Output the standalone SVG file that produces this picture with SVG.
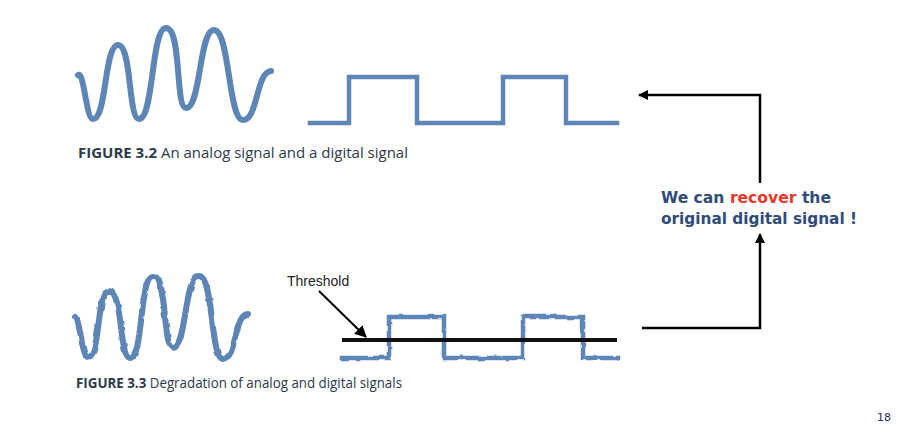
<svg xmlns="http://www.w3.org/2000/svg" width="898" height="443" viewBox="0 0 898 443">
<style>
.sig{fill:none;stroke:#5d86b6;stroke-width:6;stroke-linecap:round;stroke-linejoin:round}
.sigd{fill:none;stroke:#5d86b6;stroke-width:4.5;stroke-linecap:square;stroke-linejoin:miter}
.cap{font-family:"Open Sans","Noto Sans",sans-serif;font-size:14.5px;fill:#2b3a4b}
.conn{fill:none;stroke:#000;stroke-width:2.5}
.note{font-family:"DejaVu Sans",Verdana,sans-serif;font-weight:bold;font-size:16px;fill:#2f4b7c}
</style>
<defs>
<marker id="ah" viewBox="0 0 10 10" refX="9" refY="5" markerWidth="4" markerHeight="4" orient="auto" markerUnits="strokeWidth">
<path d="M0,0 L10,5 L0,10 z" fill="#000"/>
</marker>
<marker id="ah2" viewBox="0 0 10 10" refX="9" refY="5" markerWidth="6" markerHeight="6" orient="auto" markerUnits="strokeWidth">
<path d="M0,0 L10,5 L0,10 z" fill="#000"/>
</marker>
<filter id="rough" x="-10%" y="-20%" width="120%" height="140%">
<feTurbulence type="fractalNoise" baseFrequency="0.09" numOctaves="2" seed="7"/>
<feDisplacementMap in="SourceGraphic" scale="3.5" xChannelSelector="R" yChannelSelector="G"/>
</filter>
</defs>
<rect width="898" height="443" fill="#fff"/>

<g id="analog-signal">
<path class="sig" d="M78,75 C84,70 86,119 93,119 C107,119 104,45 118,45 C132,45 128,119 139,119 C154,119 151,28 166,28 C182,28 175,108 186,108 C201,108 199,30 214,30 C230,30 228,120 243,120 C258,120 256,72 271,71"/>
</g>

<g id="digital-signal">
<path class="sigd" d="M310,123 H349 V77 H417 V123 H503 V77 H566 V123 H617" stroke-width="5"/>
</g>

<g id="caption-3-2">
<text class="cap" x="78" y="158" textLength="330" lengthAdjust="spacingAndGlyphs"><tspan font-weight="bold">FIGURE 3.2</tspan> An analog signal and a digital signal</text>
</g>

<g id="degraded-analog" filter="url(#rough)">
<path class="sig" stroke-width="5" d="M76,317 C80,322 82,357 88,357 C101,357 96,291 109,291 C123,291 119,358 130,358 C144,358 139,276 153,276 C168,276 162,347 173,347 C187,347 184,276 199,276 C214,276 210,359 223,359 C237,359 234,314 248,314"/>
</g>

<g id="degraded-digital">
<path class="sigd" filter="url(#rough)" d="M342,358 H389 V317 H444 V358 H523 V317 H583 V358 H618"/>
<line x1="342" y1="340" x2="617" y2="340" stroke="#111" stroke-width="4"/>
</g>

<g id="threshold-label">
<text x="287" y="286" font-family="'Liberation Sans',Arial,sans-serif" font-size="14" fill="#222">Threshold</text>
<line x1="319" y1="291" x2="366" y2="337" stroke="#000" stroke-width="2" marker-end="url(#ah2)"/>
</g>

<g id="caption-3-3">
<text class="cap" x="76" y="388" textLength="326" lengthAdjust="spacingAndGlyphs"><tspan font-weight="bold">FIGURE 3.3</tspan> Degradation of analog and digital signals</text>
</g>

<g id="recover-note">
<text class="note" x="661" y="203" textLength="170" lengthAdjust="spacingAndGlyphs">We can <tspan fill="#e8372a">recover</tspan> the</text>
<text class="note" x="661" y="224" textLength="196" lengthAdjust="spacingAndGlyphs">original digital signal !</text>
</g>

<g id="connectors">
<path class="conn" d="M760,183 V95 H639" marker-end="url(#ah)"/>
<path class="conn" d="M642,328 H760 V234" marker-end="url(#ah)"/>
</g>

<g id="page-number">
<text x="877" y="421" font-family="'DejaVu Sans',Verdana,sans-serif" font-size="11" fill="#1f2d5a">18</text>
</g>
</svg>
